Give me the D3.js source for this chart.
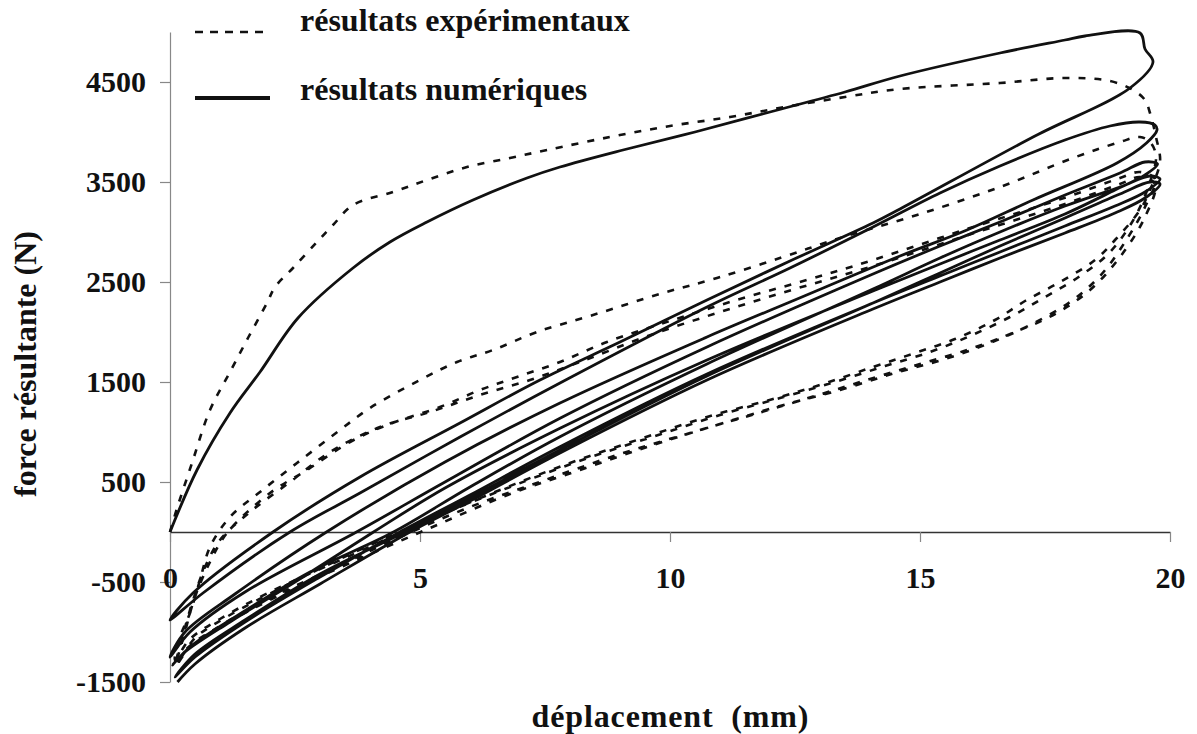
<!DOCTYPE html>
<html>
<head>
<meta charset="utf-8">
<script src="https://cdn.jsdelivr.net/npm/d3@7"></script>
<style>
  html, body { margin: 0; padding: 0; background: #fff; }
  svg text { font-family: "Liberation Serif", "Times New Roman", serif; font-weight: bold; fill: #111; }
</style>
</head>
<body>
<svg id="chart" width="1197" height="734"></svg>
<script>
// ---------- data (displacement mm, force N) ----------
const xTicks = [0, 5, 10, 15, 20];
const yTicks = [-1500, -500, 500, 1500, 2500, 3500, 4500];
const legendLabels = ["résultats expérimentaux", "résultats numériques"];
const xTitle = "déplacement  (mm)";
const yTitle = "force résultante (N)";

// numerical results (solid)
const numLoad1 = [[0,0],[0.54,620],[1.2,1190],[1.8,1600],[2.56,2140],[3.66,2640],[4.4,2900],[5.14,3100],[6.06,3320],[7.14,3540],[7.8,3650],[9.06,3820],[10.5,4000],[12,4200],[13.5,4400],[14.6,4560],[16.6,4790],[17.9,4920],[18.3,4960],[19.4,4990],[19.5,4830],[19.66,4700]];
const numUnload1 = [[19.66,4700],[19.2,4440],[17.3,3960],[14.6,3230],[14.06,3090],[12.4,2710],[10.74,2320],[9,1900],[7.4,1520],[5.8,1090],[3.8,550],[2.06,0],[0.46,-610],[0,-880]];
const numLoad2 = [[0,-880],[0.66,-610],[2.4,0],[3.8,390],[5.8,950],[7.8,1490],[10.74,2250],[12.4,2640],[14.06,3050],[15.4,3390],[16.6,3660],[17.9,3920],[18.8,4060],[19.4,4100],[19.7,4070],[19.74,4020]];
const numUnload2 = [[19.74,4020],[19.53,3890],[18.94,3690],[17.26,3320],[15.94,3020],[14.6,2760],[12.4,2300],[10.74,1950],[7.8,1290],[5.5,700],[3.13,0],[1.3,-620],[0.3,-1000],[0,-1250]];
const numLoad3 = [[0,-1250],[0.4,-1000],[1.5,-600],[3.73,0],[5.5,500],[7.8,1137],[10.74,1850],[14.06,2580],[15.4,2860],[16.6,3100],[17.9,3370],[19.0,3590],[19.5,3700],[19.75,3680]];
const numUnload3 = [[19.75,3680],[19.5,3570],[18.9,3420],[17.9,3180],[16.6,2920],[15.4,2680],[14.06,2410],[10.74,1720],[7.8,1037],[5.5,440],[4.07,0],[2.5,-500],[1.2,-900],[0.3,-1200],[0.05,-1330]];
const numLoad4 = [[0.05,-1330],[0.4,-1150],[1.3,-850],[2.8,-400],[4.47,0],[6,450],[7.8,953],[10.74,1680],[14.06,2430],[15.4,2740],[16.6,3000],[17.9,3260],[19.0,3450],[19.6,3560],[19.8,3530]];
const numUnload4 = [[19.8,3530],[19.5,3400],[18.9,3260],[17.9,3060],[16.6,2800],[15.4,2560],[14.06,2290],[10.74,1580],[7.8,853],[6,370],[4.6,0],[3,-450],[1.5,-900],[0.5,-1250],[0.1,-1450]];
const numLoad5 = [[0.1,-1450],[0.5,-1220],[1.5,-880],[3,-420],[4.7,0],[6,340],[7.8,820],[10.74,1560],[14.06,2290],[15.4,2590],[16.6,2860],[17.9,3140],[19.0,3380],[19.6,3500],[19.8,3480]];
const numUnload5 = [[19.8,3480],[19.5,3340],[18.9,3190],[17.9,2990],[16.6,2740],[15.4,2500],[14.06,2230],[10.74,1520],[7.8,790],[6,310],[4.8,0],[3,-520],[1.5,-960],[0.5,-1320],[0.15,-1500]];

// experimental results (dashed)
const expLoad1 = [[0,0],[0.13,220],[0.44,690],[0.8,1220],[1.2,1600],[1.57,1950],[1.94,2290],[2.1,2450],[2.46,2640],[2.94,2900],[3.26,3070],[3.66,3270],[4.46,3400],[5.14,3520],[5.94,3650],[6.8,3740],[7.54,3820],[8.8,3950],[10,4060],[11.2,4150],[12.3,4250],[13.5,4350],[14.6,4430],[16.6,4490],[17.9,4540],[18.8,4510],[19.26,4420],[19.5,4320],[19.6,4190],[19.72,3950],[19.8,3700]];
const expUnload1 = [[19.8,3700],[19.6,3420],[19.4,3220],[18.9,2920],[18.5,2720],[17.8,2500],[17.1,2310],[16.5,2120],[15.7,1930],[14.9,1790],[14.06,1650],[13.06,1480],[12.06,1330],[10.74,1150],[9.4,930],[8.0,690],[6.5,400],[5,80],[3.5,-260],[2,-600],[1,-870],[0.4,-1070],[0.1,-1280]];
const expLoad2 = [[0.1,-1280],[0.2,-1050],[0.4,-810],[0.6,-480],[0.8,-150],[1.2,150],[1.8,400],[2.54,690],[3.4,1020],[4.0,1240],[5,1520],[5.74,1700],[6.46,1820],[7.34,2000],[8.46,2170],[9.86,2390],[10.94,2540],[12.26,2750],[13.4,2940],[14.94,3170],[16.6,3450],[18.06,3740],[19.0,3900],[19.4,3950],[19.6,3900],[19.72,3760]];
const expUnload2 = [[19.72,3760],[19.6,3500],[19.3,3150],[18.8,2800],[18.2,2560],[17.5,2350],[16.8,2150],[16,1960],[15.2,1800],[14.3,1660],[13.3,1500],[12.2,1340],[11,1170],[9.7,960],[8.3,730],[6.8,450],[5.2,130],[3.7,-200],[2.3,-540],[1.2,-830],[0.5,-1060],[0.15,-1300]];
const expLoad3 = [[0.15,-1300],[0.3,-1000],[0.5,-650],[0.8,-300],[1.14,-10],[2,390],[2.74,620],[3.6,900],[4.34,1070],[5.4,1250],[6.2,1420],[6.94,1550],[7.8,1700],[8.74,1900],[10.06,2120],[11.4,2330],[12.74,2520],[14.06,2720],[15.94,3030],[17.94,3350],[19.0,3540],[19.4,3600],[19.7,3530]];
const expUnload3 = [[19.7,3530],[19.5,3250],[19.1,2900],[18.6,2560],[18,2300],[17.2,2070],[16.4,1890],[15.5,1730],[14.5,1590],[13.4,1420],[12.2,1260],[11,1080],[9.6,860],[8.2,620],[6.8,380],[5.2,40],[3.6,-310],[2.2,-630],[1.1,-920],[0.4,-1150],[0.12,-1330]];
const expLoad4 = [[0.12,-1330],[0.25,-1050],[0.45,-700],[0.7,-350],[1.0,-80],[1.6,200],[2.4,500],[3.2,800],[4.2,1050],[5.2,1200],[6.2,1370],[7.2,1520],[8.2,1700],[9.5,1950],[11,2200],[12.5,2430],[14,2650],[15.9,2960],[17.9,3280],[19.0,3480],[19.4,3550],[19.7,3480]];
const expUnload4 = [[19.7,3480],[19.5,3150],[19.0,2750],[18.4,2420],[17.7,2180],[16.9,2000],[16,1830],[15,1680],[14,1530],[12.9,1360],[11.7,1180],[10.4,990],[9,780],[7.5,520],[6,250],[4.6,-50],[3.2,-380],[2,-660],[1,-940],[0.35,-1160],[0.1,-1350]];

const numBranches = [numLoad1, numUnload1, numLoad2, numUnload2, numLoad3, numUnload3, numLoad4, numUnload4, numLoad5, numUnload5];
const expBranches = [expLoad1, expUnload1, expLoad2, expUnload2, expLoad3, expUnload3, expLoad4, expUnload4];

// ---------- drawing ----------
const svg = d3.select("#chart");
const x = d3.scaleLinear().domain([0, 20]).range([170, 1170]);
const y = d3.scaleLinear().domain([-1500, 5000]).range([682, 32]);

function join(branches) {
  const out = [];
  branches.forEach((b, i) => b.forEach((p, j) => { if (i === 0 || j > 0) out.push(p); }));
  return out;
}

// axes
const yAxis = d3.axisLeft(y).tickValues(yTicks).tickSize(10).tickSizeOuter(0).tickPadding(14).tickFormat(d => String(d));
const gy = svg.append("g").attr("transform", `translate(${x(0)},0)`).call(yAxis);
gy.select(".domain").attr("stroke", "#888").attr("stroke-width", 1.2);
gy.selectAll(".tick line").attr("stroke", "#888").attr("stroke-width", 1.2);
gy.selectAll(".tick text").style("font-size", "30px").attr("fill", "#111");

const xAxis = d3.axisBottom(x).tickValues(xTicks).tickSize(10).tickSizeOuter(0).tickPadding(25).tickFormat(d => String(d));
const gx = svg.append("g").attr("transform", `translate(0,${y(0)})`).call(xAxis);
gx.select(".domain").attr("stroke", "#333").attr("stroke-width", 1.5);
gx.selectAll(".tick line").attr("stroke", "#888").attr("stroke-width", 1.2);
gx.selectAll(".tick text").style("font-size", "30px").attr("fill", "#111");

const line = d3.line().x(d => x(d[0])).y(d => y(d[1])).curve(d3.curveCatmullRom.alpha(0.5));

svg.append("path").datum(join(expBranches))
  .attr("d", line).attr("fill", "none").attr("stroke", "#111")
  .attr("stroke-width", 2.6).attr("stroke-dasharray", "7,9");

svg.append("path").datum(join(numBranches))
  .attr("d", line).attr("fill", "none").attr("stroke", "#111")
  .attr("stroke-width", 2.8).attr("stroke-linejoin", "round");

// legend
const lg = svg.append("g");
lg.append("line").attr("x1", 195).attr("x2", 268).attr("y1", 32).attr("y2", 32)
  .attr("stroke", "#111").attr("stroke-width", 2.6).attr("stroke-dasharray", "8,7");
lg.append("line").attr("x1", 195).attr("x2", 270).attr("y1", 98).attr("y2", 98)
  .attr("stroke", "#111").attr("stroke-width", 4);
lg.append("text").attr("x", 300).attr("y", 31).style("font-size", "32px").text(legendLabels[0]);
lg.append("text").attr("x", 300).attr("y", 100).style("font-size", "32px").text(legendLabels[1]);

// axis titles
svg.append("text").attr("x", x(10)).attr("y", 727).attr("text-anchor", "middle")
  .style("font-size", "32px").style("white-space", "pre")
  .attr("textLength", 277).attr("lengthAdjust", "spacing").text(xTitle);
svg.append("text").attr("transform", "translate(36,364) rotate(-90)").attr("text-anchor", "middle")
  .style("font-size", "32px").text(yTitle);
</script>
</body>
</html>
